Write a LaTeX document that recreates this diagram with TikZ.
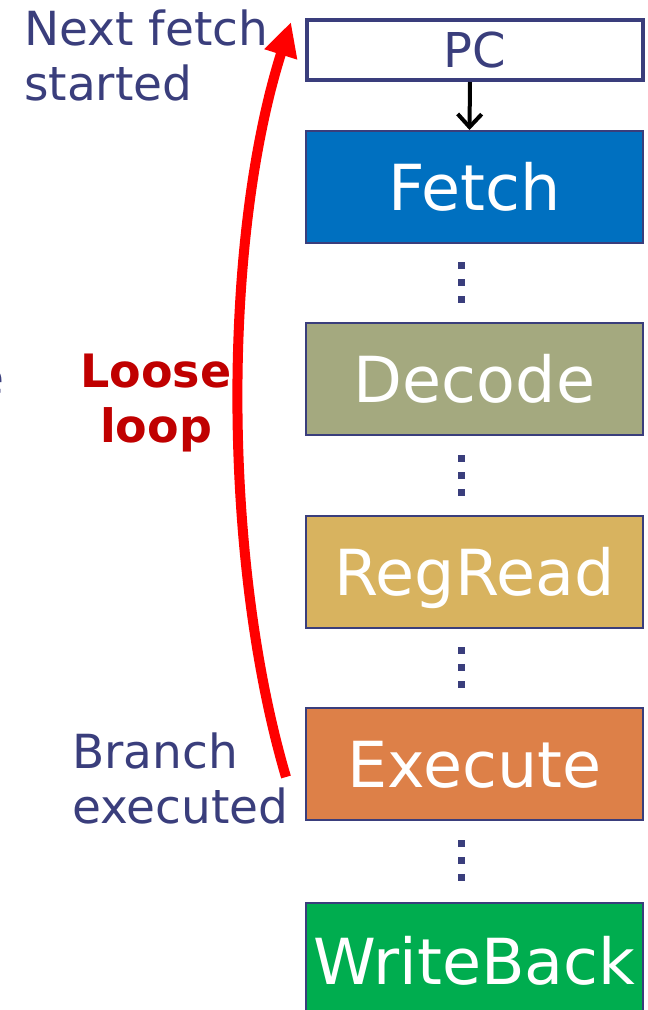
\documentclass[tikz,border=0pt]{standalone}
\usepackage{fontspec}
\setmainfont{DejaVu Sans}
\usetikzlibrary{arrows.meta}
\definecolor{navy}{HTML}{3A3E7C}
\definecolor{fetchc}{HTML}{0070C0}
\definecolor{decodec}{HTML}{A4A97F}
\definecolor{regreadc}{HTML}{D8B35F}
\definecolor{executec}{HTML}{DD8048}
\definecolor{wbc}{HTML}{00AD4F}
\definecolor{darkred}{HTML}{C00000}
\definecolor{loopred}{HTML}{FF0000}
\tikzset{
  stage/.style={draw=navy, line width=2pt, text=white, minimum width=337pt,
    minimum height=112pt, inner sep=0pt, anchor=north west,
    font=\fontsize{63.5}{63.5}\selectfont, text height=46pt, text depth=0pt},
  note/.style={text=navy, align=left, inner sep=0pt, anchor=base west,
    font=\fontsize{47}{55}\selectfont},
  dotsq/.style={fill=navy, draw=none, minimum size=7pt, inner sep=0pt}
}
\begin{document}
\begin{tikzpicture}[x=1pt,y=-1pt]
\useasboundingbox (0,0) rectangle (648,1010);
\clip (0,0) rectangle (648,1010);
\node[draw=navy, line width=4pt, minimum width=336pt, minimum height=60pt,
  inner sep=0pt, anchor=north west, text=navy,
  font=\fontsize{48}{48}\selectfont, text height=35pt, text depth=0pt] (pc) at (305,18) {PC};
\node[stage, fill=fetchc] (fetch) at (305,130) {Fetch};
\node[stage, fill=decodec] (decode) at (305,322) {Decode};
\node[stage, fill=regreadc] (regread) at (305,515) {RegRead};
\node[stage, fill=executec] (execute) at (305,707) {Execute};
\node[stage, fill=wbc, minimum height=116pt] (wb) at (305,902) {WriteBack};
\draw[black, line width=4pt, -{Straight Barb[length=13pt,width=24pt]}]
  ([xshift=-5pt]pc.south) -- ([xshift=-5pt]fetch.north);
\foreach \c in {282.5,475,667,860}{
  \foreach \d in {-17,0,17}{
    \node[dotsq] at (461,\c+\d) {};
  }
}
\coordinate (bstart) at (286,777);
\coordinate (ntip) at (291,22);
\draw[loopred, line width=10pt, -{Triangle[length=34pt,width=32pt]}]
  (bstart) .. controls (222,560) and (222,240) .. (ntip);
\node[note] (next) at (24,100) {Next fetch\\started};
\node[note] (branch) at (72,823) {Branch\\executed};
\node[text=darkred, align=center, inner sep=0pt, anchor=base,
  font=\bfseries\fontsize{46}{55}\selectfont] (loose) at (156,442) {Loose\\loop};
\node[text=navy, inner sep=0pt, anchor=base east,
  font=\fontsize{47}{47}\selectfont] (frag) at (5,394) {e};
\end{tikzpicture}
\end{document}
